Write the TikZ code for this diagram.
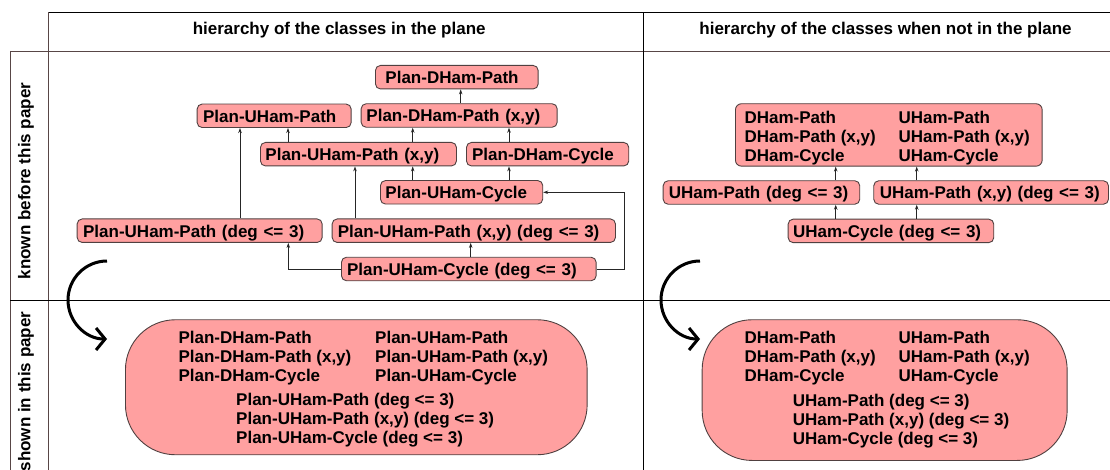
\documentclass[tikz,border=0pt]{standalone}
\usepackage{fontspec}
\setmainfont{Liberation Sans}
\usetikzlibrary{arrows.meta}
\definecolor{pk}{RGB}{255,160,160}
\definecolor{bd}{RGB}{80,64,64}
\definecolor{ln}{RGB}{88,70,70}
\begin{document}
\begin{tikzpicture}[x=1pt,y=-1pt,
  font=\bfseries\fontsize{17}{19}\selectfont,
  cls/.style={draw=bd, fill=pk, rounded corners=5pt, line width=0.9pt, align=left,
    text height=16pt, text depth=3pt, inner ysep=2.25pt, anchor=west},
  bigbox/.style={draw=bd, fill=pk, line width=0.9pt, inner sep=0pt, anchor=north west},
  lbl/.style={anchor=base west, inner sep=0pt},
  arr/.style={draw=black!85, line width=0.8pt, -{Stealth[length=5pt,width=3.5pt]}},
  bendarr/.style={line width=3pt, -{Straight Barb[length=9pt,width=22pt]}},
  gridline/.style={line width=0.9pt},
  rowlbl/.style={rotate=90, anchor=center, inner sep=0pt}]
\useasboundingbox (0,0) rectangle (1110,470);
% table
\draw[gridline, black] (48.3,12.3) -- (1110,12.3);
\draw[gridline, ln] (48.3,12.3) -- (48.3,470);
\draw[gridline, ln] (10,51) -- (1110,51);
\draw[gridline, ln] (10,51) -- (10,470);
\draw[gridline, black] (10,300) -- (1110,300);
\draw[gridline, black] (643.3,12.3) -- (643.3,470);
% headers
\node[anchor=base, inner sep=0pt] (h1) at (339.2,35) {hierarchy of the classes in the plane};
\node[anchor=base, inner sep=0pt] (h2) at (885.5,35) {hierarchy of the classes when not in the plane};
\node[rowlbl] (r1) at (26,181) {known before this paper};
\node[rowlbl] (r2) at (26,391.5) {shown in this paper};
% left hierarchy
\node[cls, inner xsep=10pt, text width=142.7pt] (pdp) at (375,77.2) {Plan-DHam-Path};
\node[cls, inner xsep=5.3pt, text width=185.4pt] (pdpxy) at (360.7,115.5) {Plan-DHam-Path (x,y)};
\node[cls, inner xsep=6pt, text width=142pt] (pup) at (196.7,115.8) {Plan-UHam-Path};
\node[cls, inner xsep=5pt, text width=186pt] (pupxy) at (260,154.2) {Plan-UHam-Path (x,y)};
\node[cls, inner xsep=5.7pt, text width=150.9pt] (pdc) at (466,154.2) {Plan-DHam-Cycle};
\node[cls, inner xsep=5pt, text width=152.3pt] (puc) at (380,192.3) {Plan-UHam-Cycle};
\node[cls, inner xsep=6pt, text width=233pt] (pup3) at (76.7,230.7) {Plan-UHam-Path (deg <= 3)};
\node[cls, inner xsep=5.6pt, text width=272.1pt] (pupxy3) at (331.7,230.7) {Plan-UHam-Path (x,y) (deg <= 3)};
\node[cls, inner xsep=5.7pt, text width=243.3pt] (puc3) at (341,269) {Plan-UHam-Cycle (deg <= 3)};
\draw[arr] (460.7,0 |- pdpxy.north) -- (460.7,0 |- pdp.south);
\draw[arr] (412.7,0 |- pupxy.north) -- (412.7,0 |- pdpxy.south);
\draw[arr] (509,0 |- pdc.north) -- (509,0 |- pdpxy.south);
\draw[arr] (288,0 |- pupxy.north) -- (288,0 |- pup.south);
\draw[arr] (412.7,0 |- puc.north) -- (412.7,0 |- pupxy.south);
\draw[arr] (509,0 |- puc.north) -- (509,0 |- pdc.south);
\draw[arr] (240,0 |- pup3.north) -- (240,0 |- pup.south);
\draw[arr] (355,0 |- pupxy3.north) -- (355,0 |- pupxy.south);
\draw[arr] (470.7,0 |- puc3.north) -- (470.7,0 |- pupxy3.south);
\draw[arr] (puc3.west) -| (288.3,0 |- pup3.south);
\draw[arr] (puc3.east) -- (624.3,0 |- puc3.east) -- (624.3,0 |- puc.east) -- (puc.east);
% right hierarchy
\node[bigbox, rounded corners=6pt, minimum width=306.7pt, minimum height=62.4pt] (big) at (735,103.3) {};
\node[lbl] (b1) at (744.3,123.3) {DHam-Path};
\node[lbl] (b2) at (744.3,142.7) {DHam-Path (x,y)};
\node[lbl] (b3) at (744.3,161.7) {DHam-Cycle};
\node[lbl] (b4) at (898.3,123.3) {UHam-Path};
\node[lbl] (b5) at (898.3,142.7) {UHam-Path (x,y)};
\node[lbl] (b6) at (898.3,161.7) {UHam-Cycle};
\node[cls, inner xsep=5.6pt, text width=185.4pt] (up3) at (662.7,192.5) {UHam-Path (deg <= 3)};
\node[cls, inner xsep=6pt, text width=222.7pt] (upxy3) at (873.3,192.5) {UHam-Path (x,y) (deg <= 3)};
\node[cls, inner xsep=5pt, text width=195.6pt] (uc3) at (787.7,230.9) {UHam-Cycle (deg <= 3)};
\draw[arr] (835.7,0 |- up3.north) -- (835.7,0 |- big.south);
\draw[arr] (916.7,0 |- upxy3.north) -- (916.7,0 |- big.south);
\draw[arr] (835.7,0 |- uc3.north) -- (835.7,0 |- up3.south);
\draw[arr] (916.7,0 |- uc3.north) -- (916.7,0 |- upxy3.south);
% bent arrows
\coordinate (la1) at (107,261);
\coordinate (la2) at (107,339);
\draw[bendarr] (la1) .. controls (85.5,261) and (68,278.5) .. (68,300) .. controls (68,321.5) and (85.5,339) .. (la2);
\coordinate (ra1) at (700,261);
\coordinate (ra2) at (700,339);
\draw[bendarr] (ra1) .. controls (678.5,261) and (661,278.5) .. (661,300) .. controls (661,321.5) and (678.5,339) .. (ra2);
% shown in this paper
\node[bigbox, rounded corners=50pt, minimum width=461.7pt, minimum height=135pt] (newl) at (125,319.3) {};
\node[lbl] (l1) at (178.3,343) {Plan-DHam-Path};
\node[lbl] (l2) at (178.3,362) {Plan-DHam-Path (x,y)};
\node[lbl] (l3) at (178.3,381) {Plan-DHam-Cycle};
\node[lbl] (l4) at (375,343) {Plan-UHam-Path};
\node[lbl] (l5) at (375,362) {Plan-UHam-Path (x,y)};
\node[lbl] (l6) at (375,381) {Plan-UHam-Cycle};
\node[lbl] (l7) at (236,405) {Plan-UHam-Path (deg <= 3)};
\node[lbl] (l8) at (236,424) {Plan-UHam-Path (x,y) (deg <= 3)};
\node[lbl] (l9) at (236,443) {Plan-UHam-Cycle (deg <= 3)};
\node[bigbox, rounded corners=50pt, minimum width=365pt, minimum height=140.7pt] (newr) at (701.7,319.3) {};
\node[lbl] (n1) at (744.3,343) {DHam-Path};
\node[lbl] (n2) at (744.3,362) {DHam-Path (x,y)};
\node[lbl] (n3) at (744.3,381) {DHam-Cycle};
\node[lbl] (n4) at (898.3,343) {UHam-Path};
\node[lbl] (n5) at (898.3,362) {UHam-Path (x,y)};
\node[lbl] (n6) at (898.3,381) {UHam-Cycle};
\node[lbl] (n7) at (792.7,406) {UHam-Path (deg <= 3)};
\node[lbl] (n8) at (792.7,425) {UHam-Path (x,y) (deg <= 3)};
\node[lbl] (n9) at (792.7,444) {UHam-Cycle (deg <= 3)};
\end{tikzpicture}
\end{document}
